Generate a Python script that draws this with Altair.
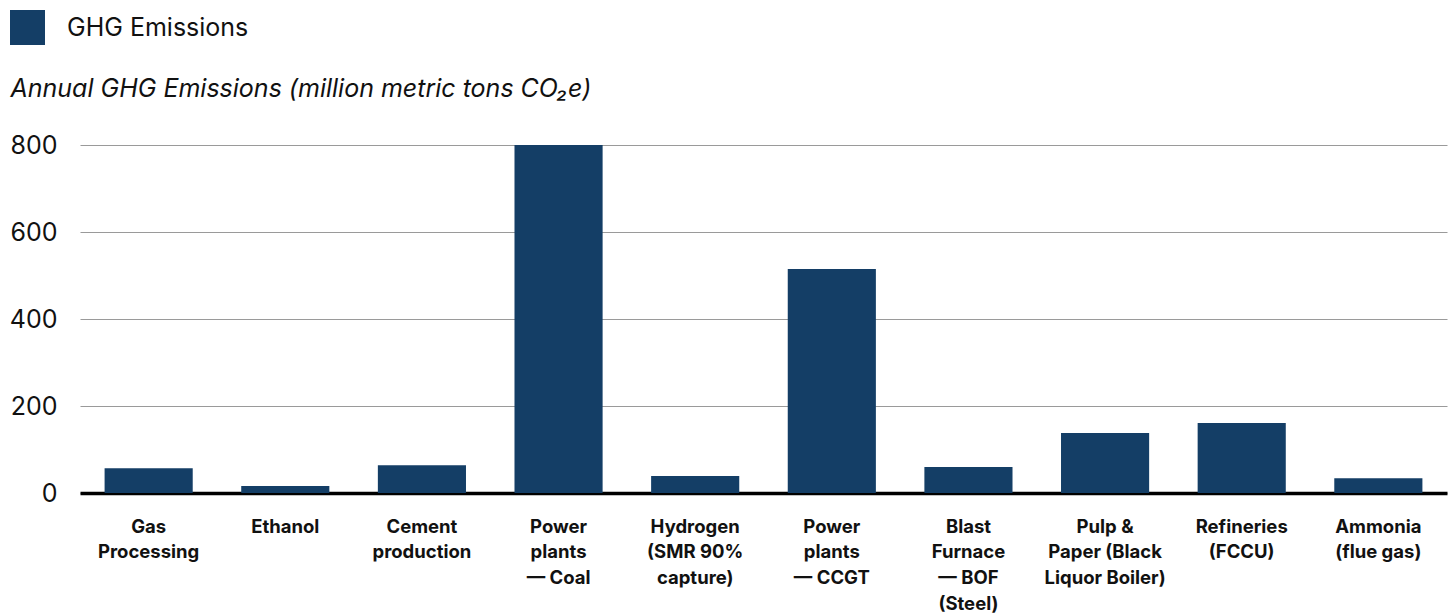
import altair as alt
import pandas as pd

categories = [
    "Gas|Processing", "Ethanol", "Cement|production", "Power|plants|— Coal",
    "Hydrogen|(SMR 90%|capture)", "Power|plants|— CCGT", "Blast|Furnace|— BOF|(Steel)",
    "Pulp &|Paper (Black|Liquor Boiler)", "Refineries|(FCCU)", "Ammonia|(flue gas)",
]
values = [57, 16, 64, 800, 39, 515, 60, 138, 161, 34]
series = ["GHG Emissions"] * len(categories)
y_ticks = [0, 200, 400, 600, 800]

df = pd.DataFrame({"cat": categories, "val": values, "series": series})

FONT = "Inter"
COLOR = "#143e66"

chart = alt.Chart(df).mark_bar(color=COLOR).encode(
    x=alt.X("cat:N", sort=categories,
            scale=alt.Scale(paddingInner=0.355, paddingOuter=0.18),
            axis=alt.Axis(title=None, labelAngle=0, labelExpr="split(datum.label, '|')",
                          labelFontSize=18.5, labelFontWeight="bold", labelColor="#111",
                          labelLineHeight=25.7, labelPadding=24, labelBaseline="top",
                          ticks=False, domainColor="#000", domainWidth=3.5, grid=False,
                          labelFont=FONT)),
    y=alt.Y("val:Q", scale=alt.Scale(domain=[0, 800], nice=False),
            axis=alt.Axis(values=y_ticks, title="Annual GHG Emissions (million metric tons CO₂e)",
                          titleAngle=0, titleX=-70, titleY=-57, titleAlign="left",
                          titleBaseline="middle", titleFontStyle="italic", titleFontWeight="normal",
                          titleFontSize=25, titleColor="#111", titleFont=FONT,
                          labelFontSize=25, labelColor="#111", labelFont=FONT, labelPadding=23,
                          ticks=False, domain=False, gridColor="#9a9a9a", gridWidth=1.2)),
    fill=alt.Fill("series:N", scale=alt.Scale(range=[COLOR]),
                  legend=alt.Legend(title=None, orient="none", legendX=-70, legendY=-135,
                                    symbolType="square", symbolSize=1225, symbolStrokeWidth=0,
                                    symbolOpacity=1, labelFontSize=25, labelFont=FONT,
                                    labelColor="#111", labelOffset=22, labelLimit=500)),
).properties(
    width=1367, height=348,
    background="white",
    autosize=alt.AutoSizeParams(type="none"),
    padding={"left": 80, "top": 145, "right": 6, "bottom": 121},
).configure_view(stroke="transparent", strokeWidth=0)

chart.save("out.html", embed_options={"renderer": "svg", "actions": False})
